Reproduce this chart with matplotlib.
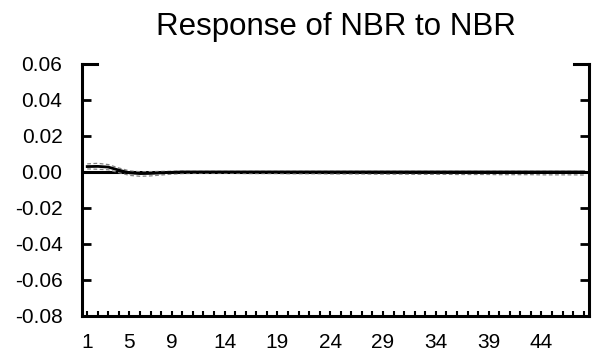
import numpy as np
import matplotlib.pyplot as plt

plt.rcParams['font.family'] = ['Liberation Sans', 'DejaVu Sans']

periods = np.arange(1, 49)
response = [0.0030, 0.0031, 0.0027, 0.0010, -0.0005, -0.0009, -0.0008, -0.0005,
            -0.0002, 0.0000] + [0.0000] * 38
upper = [0.0045, 0.0048, 0.0041, 0.0022, 0.0006, 0.0001, 0.0002, 0.0003,
         0.0004, 0.0004] + [0.0003] * 38
lower = [0.0017, 0.0015, 0.0012, -0.0004, -0.0019, -0.0024, -0.0022, -0.0017,
         -0.0012, -0.0009, -0.0008, -0.0008, -0.0008, -0.0008, -0.0008,
         -0.0009, -0.0009, -0.0009, -0.0009, -0.0010, -0.0010, -0.0010,
         -0.0010, -0.0011, -0.0011, -0.0011, -0.0011, -0.0012, -0.0012,
         -0.0012, -0.0012, -0.0013, -0.0013, -0.0013, -0.0013, -0.0014,
         -0.0014, -0.0014, -0.0014, -0.0015, -0.0015, -0.0015, -0.0015,
         -0.0016, -0.0016, -0.0016, -0.0016, -0.0017]
xtick_labels = [1, 5, 9, 14, 19, 24, 29, 34, 39, 44]
yticks = [-0.08, -0.06, -0.04, -0.02, 0.00, 0.02, 0.04, 0.06]

fig = plt.figure(figsize=(5.98, 3.56), dpi=100)
ax = fig.add_axes([0.137, 0.1124, 0.848, 0.708])

ax.axhline(0, color='black', lw=2.2, zorder=2)
ax.plot(periods, upper, color='gray', lw=0.9, ls=(0, (3, 2)), zorder=3)
ax.plot(periods, lower, color='gray', lw=0.9, ls=(0, (3, 2)), zorder=3)
ax.plot(periods, response, color='black', lw=2.0, zorder=4)

ax.set_xlim(0.5, 48.5)
ax.set_ylim(-0.08, 0.06)

ax.set_yticks(yticks)
ax.set_yticklabels(['%.2f' % v for v in yticks], fontsize=15)
ax.set_xticks(xtick_labels)
ax.set_xticklabels([str(v) for v in xtick_labels], fontsize=15)
ax.set_xticks(periods, minor=True)

ax.tick_params(axis='y', direction='in', length=6.5, width=2, left=True, right=True, pad=14)
ax.tick_params(axis='x', which='both', direction='in', length=3.6, width=1.5, pad=12)

ax.spines['top'].set_visible(False)
for s in ['left', 'right', 'bottom']:
    ax.spines[s].set_linewidth(2.2)

# longer ticks at the top corners
ax.plot([0, 0.03], [1, 1], transform=ax.transAxes, color='black', lw=2.2, clip_on=False)
ax.plot([0.97, 1], [1, 1], transform=ax.transAxes, color='black', lw=2.2, clip_on=False)

ax.set_title('Response of NBR to NBR', fontsize=22.5, pad=21)

fig.savefig('out.png', dpi=100)
